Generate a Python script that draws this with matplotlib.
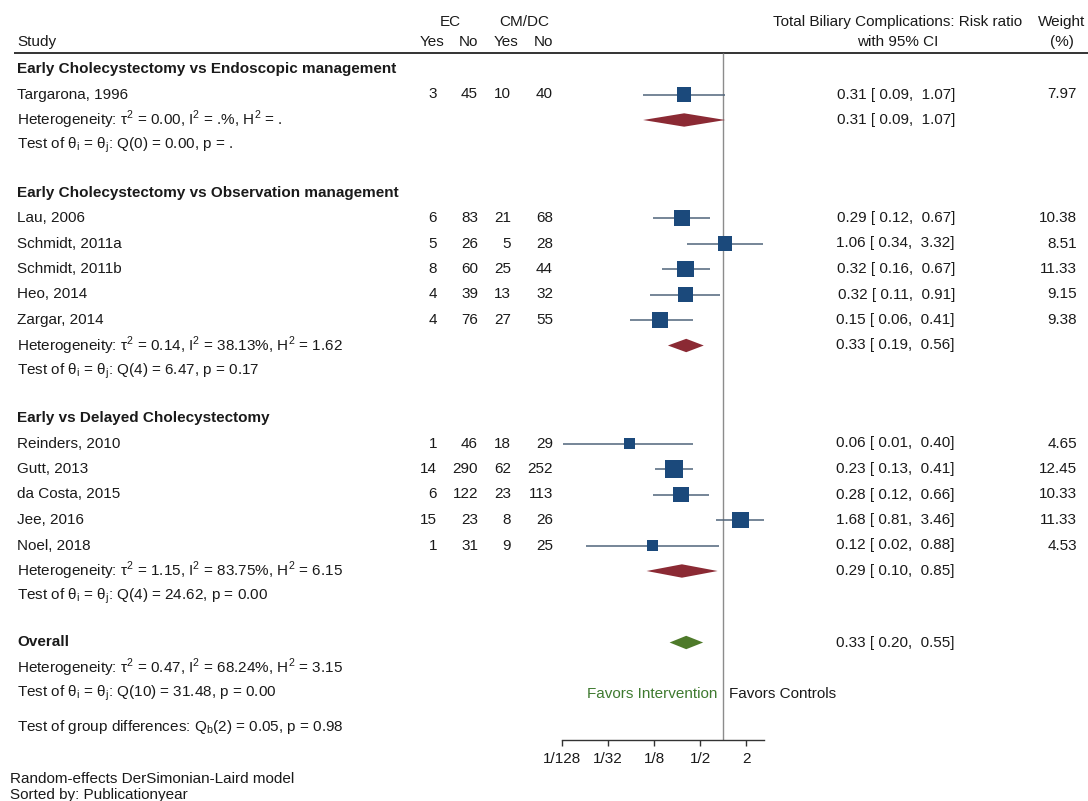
import numpy as np
import matplotlib
matplotlib.use("Agg")
import matplotlib.pyplot as plt
from matplotlib.ticker import FixedLocator, FixedFormatter, NullLocator

plt.rcParams['font.family'] = ['Liberation Sans', 'DejaVu Sans']

# ---- data ----
groups = ["Early Cholecystectomy vs Endoscopic management",
          "Early Cholecystectomy vs Observation management",
          "Early vs Delayed Cholecystectomy"]
studies = ["Targarona, 1996",
           "Lau, 2006", "Schmidt, 2011a", "Schmidt, 2011b", "Heo, 2014", "Zargar, 2014",
           "Reinders, 2010", "Gutt, 2013", "da Costa, 2015", "Jee, 2016", "Noel, 2018"]
study_group = [0, 1, 1, 1, 1, 1, 2, 2, 2, 2, 2]
ec_yes = [3, 6, 5, 8, 4, 4, 1, 14, 6, 15, 1]
ec_no = [45, 83, 26, 60, 39, 76, 46, 290, 122, 23, 31]
cm_yes = [10, 21, 5, 25, 13, 27, 18, 62, 23, 8, 9]
cm_no = [40, 68, 28, 44, 32, 55, 29, 252, 113, 26, 25]
rr = [0.31, 0.29, 1.06, 0.32, 0.32, 0.15, 0.06, 0.23, 0.28, 1.68, 0.12]
ci_lo = [0.09, 0.12, 0.34, 0.16, 0.11, 0.06, 0.008, 0.13, 0.12, 0.81, 0.016]
ci_hi = [1.07, 0.67, 3.32, 0.67, 0.91, 0.41, 0.40, 0.41, 0.66, 3.46, 0.88]
weight = [7.97, 10.38, 8.51, 11.33, 9.15, 9.38, 4.65, 12.45, 10.33, 11.33, 4.53]

group_rr = [0.31, 0.33, 0.29]
group_lo = [0.09, 0.19, 0.10]
group_hi = [1.07, 0.56, 0.85]
group_tau2 = [0.00, 0.14, 1.15]
group_i2 = [None, 38.13, 83.75]
group_h2 = [None, 1.62, 6.15]
group_qdf = [0, 4, 4]
group_q = [0.00, 6.47, 24.62]
group_p = [None, 0.17, 0.00]

overall_rr, overall_lo, overall_hi = 0.33, 0.20, 0.55
overall_tau2, overall_i2, overall_h2 = 0.47, 68.24, 3.15
overall_qdf, overall_q, overall_p = 10, 31.48, 0.00
qb_df, qb, qb_p = 2, 0.05, 0.98

tick_vals = [1/128, 1/32, 1/8, 1/2, 2]
tick_labels = ["1/128", "1/32", "1/8", "1/2", "2"]

# ---- style ----
FS = 11
C_SQ = '#1b497b'
C_CI = '#50647a'
C_RED = '#8b2a34'
C_GREEN = '#4e7a2a'
C_TXT = '#1a1a1a'
SQ = r"$^\mathregular{2}$"


def f2(v, suffix=""):
    return "." + suffix if v is None else "%.2f%s" % (v, suffix)


def het_text(t2, i2, h2):
    return "Heterogeneity: τ%s = %s, I%s = %s, H%s = %s" % (SQ, f2(t2), SQ, f2(i2, "%"), SQ, f2(h2))


def test_text(df, q, p):
    return r"Test of θ$_\mathregular{i}$ = θ$_\mathregular{j}$: Q(%d) = %.2f, p = %s" % (df, q, f2(p))


def ci_text(r, lo, hi):
    return "%.2f [%5.2f, %5.2f]" % (r, lo, hi)


# ---- layout (pixels) ----
W, H = 1088, 801
STEP, GAP = 25.5, 47
RULE_Y = 52.5
AXIS_Y = 740
NULL_X = 723          # pixel position of RR = 1
PX_LOG2 = 23          # pixels per doubling
X_STUDY = 17
X_COLS = [437, 478, 511, 553]
X_CI = 955
X_W = 1077

y = 69
group_y, study_y, het_y, test_y = [], [], [], []
for g in range(len(groups)):
    group_y.append(y)
    y += STEP
    for i, sg in enumerate(study_group):
        if sg == g:
            study_y.append(y)
            y += STEP
    het_y.append(y)
    y += STEP
    test_y.append(y)
    y += GAP
overall_y = y - 1
ohet_y = overall_y + STEP
otest_y = ohet_y + STEP
qb_y = otest_y + 33

fig = plt.figure(figsize=(W / 100, H / 100), dpi=100)
tx = fig.add_axes([0, 0, 1, 1])
tx.set_xlim(0, W)
tx.set_ylim(H, 0)
tx.axis('off')

kw = dict(fontsize=FS, color=C_TXT, va='center')

# header
tx.text(450, 22, "EC", ha='center', **kw)
tx.text(524, 22, "CM/DC", ha='center', **kw)
tx.text(X_STUDY, 42, "Study", ha='left', **kw)
tx.text(432, 42, "Yes", ha='center', **kw)
tx.text(X_COLS[1], 42, "No", ha='right', **kw)
tx.text(506, 42, "Yes", ha='center', **kw)
tx.text(X_COLS[3], 42, "No", ha='right', **kw)
tx.text(898, 22, "Total Biliary Complications: Risk ratio", ha='center', **kw)
tx.text(898, 42, "with 95% CI", ha='center', **kw)
tx.text(1062, 22, "Weight", ha='center', **kw)
tx.text(1062, 42, "(%)", ha='center', **kw)
tx.hlines(RULE_Y, 14, W, color='#333333', lw=1.4)

# rows
for g in range(len(groups)):
    tx.text(X_STUDY, group_y[g], groups[g], ha='left', fontweight='bold', **kw)
    tx.text(X_STUDY, het_y[g], het_text(group_tau2[g], group_i2[g], group_h2[g]), ha='left', **kw)
    tx.text(X_STUDY, test_y[g], test_text(group_qdf[g], group_q[g], group_p[g]), ha='left', **kw)
    tx.text(X_CI, het_y[g], ci_text(group_rr[g], group_lo[g], group_hi[g]), ha='right', **kw)

for i, name in enumerate(studies):
    yy = study_y[i]
    tx.text(X_STUDY, yy, name, ha='left', **kw)
    for xc, v in zip(X_COLS, [ec_yes[i], ec_no[i], cm_yes[i], cm_no[i]]):
        tx.text(xc, yy, str(v), ha='right', **kw)
    tx.text(X_CI, yy, ci_text(rr[i], ci_lo[i], ci_hi[i]), ha='right', **kw)
    tx.text(X_W, yy, "%.2f" % weight[i], ha='right', **kw)

tx.text(X_STUDY, overall_y, "Overall", ha='left', fontweight='bold', **kw)
tx.text(X_STUDY, ohet_y, het_text(overall_tau2, overall_i2, overall_h2), ha='left', **kw)
tx.text(X_STUDY, otest_y, test_text(overall_qdf, overall_q, overall_p), ha='left', **kw)
tx.text(X_CI, overall_y, ci_text(overall_rr, overall_lo, overall_hi), ha='right', **kw)
tx.text(X_STUDY, qb_y, r"Test of group differences: Q$_\mathregular{b}$(%d) = %.2f, p = %.2f" % (qb_df, qb, qb_p),
        ha='left', **kw)

tx.text(NULL_X - 6, otest_y, "Favors Intervention", ha='right', fontsize=FS, color='#3f7a30', va='center')
tx.text(NULL_X + 6, otest_y, "Favors Controls", ha='left', **kw)

tx.text(10, 779, "Random-effects DerSimonian-Laird model", ha='left', **kw)
tx.text(10, 795, "Sorted by: Publicationyear", ha='left', **kw)

# ---- forest panel ----
xmin, xmax = tick_vals[0], max(ci_hi)
left = NULL_X + PX_LOG2 * np.log2(xmin)
right = NULL_X + PX_LOG2 * np.log2(xmax)
fx = fig.add_axes([left / W, (H - AXIS_Y) / H, (right - left) / W, AXIS_Y / H])
fx.patch.set_alpha(0)
fx.set_xscale('log', base=2)
fx.set_xlim(xmin, xmax)
fx.set_ylim(AXIS_Y, 0)
for s in ['top', 'left', 'right']:
    fx.spines[s].set_visible(False)
fx.spines['bottom'].set_color('#333333')
fx.spines['bottom'].set_linewidth(1.0)
fx.set_yticks([])
fx.xaxis.set_major_locator(FixedLocator(tick_vals))
fx.xaxis.set_major_formatter(FixedFormatter(tick_labels))
fx.xaxis.set_minor_locator(NullLocator())
fx.tick_params(axis='x', length=4, width=1, color='#333333', labelsize=FS, labelcolor=C_TXT, pad=4.5)

fx.vlines(1, RULE_Y, AXIS_Y, color='#8c8c8c', lw=1.0)

fx.hlines(study_y, ci_lo, ci_hi, color=C_CI, lw=1.1, clip_on=False, zorder=2)
fx.scatter(rr, study_y, s=12.75 * np.array(weight), marker='s', color=C_SQ, linewidths=0,
           clip_on=False, zorder=3)

DH = 6.7
for g in range(len(groups)):
    yy = het_y[g]
    fx.fill([group_lo[g], group_rr[g], group_hi[g], group_rr[g]], [yy, yy - DH, yy, yy + DH],
            color=C_RED, lw=0, zorder=3)
fx.fill([overall_lo, overall_rr, overall_hi, overall_rr],
        [overall_y, overall_y - DH, overall_y, overall_y + DH], color=C_GREEN, lw=0, zorder=3)

fig.savefig("out.png", dpi=100)
